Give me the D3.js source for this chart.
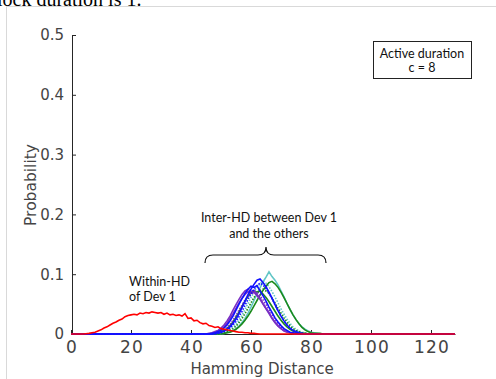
<!DOCTYPE html>
<html>
<head>
<meta charset="utf-8">
<script src="https://cdn.jsdelivr.net/npm/d3@7"></script>
<style>
  body { margin: 0; background: #fff; }
  svg { display: block; }
</style>
</head>
<body>
<svg id="chart" width="496" height="379"></svg>
<script>
// axis ticks
const xTicks = [0, 20, 40, 60, 80, 100, 120];
const yTicks = [0, 0.1, 0.2, 0.3, 0.4, 0.5];
const hdMax = 128;

// within-HD of Dev 1 (red), values from HD = 0
const withinStart = 0;
const withinValues = [0, 0, 0, 0, 0, 0.0005, 0.001, 0.002, 0.003, 0.005,
  0.007, 0.010, 0.012, 0.015, 0.018, 0.020, 0.023, 0.025, 0.029, 0.031,
  0.032, 0.033, 0.032, 0.035, 0.034, 0.036, 0.035, 0.037, 0.036, 0.035,
  0.036, 0.033, 0.035, 0.032, 0.033, 0.031, 0.032, 0.030, 0.034, 0.026,
  0.027, 0.022, 0.023, 0.019, 0.017, 0.018, 0.014, 0.013, 0.011, 0.012,
  0.009, 0.008, 0.007, 0.006, 0.005, 0.004, 0.003, 0.003, 0.002, 0.002,
  0.001, 0.001, 0.0005, 0];

// inter-HD between Dev 1 and the others
const interNames = ["cyanA", "cyanB", "greenA", "greenB", "greenC", "purpleA", "purpleB", "purpleC", "blueA", "blueB", "blueC"];
const interColors = ["#62c6c6", "#62c6c6", "#1b8a1b", "#1b8a1b", "#1b8a1b", "#7a2fc4", "#7a2fc4", "#7a2fc4", "#1010ff", "#1010ff", "#1010ff"];
const interDotted = [false, true, false, false, true, false, false, true, false, true, false];
const interStarts = [51, 50, 51, 48, 50, 46, 47, 48, 47, 49, 48];
const interValues = [
  [0.001, 0.002, 0.004, 0.006, 0.009, 0.013, 0.019, 0.026, 0.035, 0.045, 0.056, 0.067, 0.077, 0.087, 0.095, 0.104, 0.096, 0.090, 0.082, 0.072, 0.062, 0.051, 0.041, 0.032, 0.024, 0.017, 0.012, 0.008, 0.005, 0.003, 0.002, 0.001],
  [0.001, 0.002, 0.004, 0.007, 0.011, 0.016, 0.023, 0.031, 0.041, 0.051, 0.061, 0.070, 0.078, 0.084, 0.088, 0.085, 0.079, 0.071, 0.062, 0.052, 0.042, 0.033, 0.025, 0.018, 0.012, 0.008, 0.005, 0.003, 0.002, 0.001],
  [0.001, 0.002, 0.003, 0.005, 0.008, 0.012, 0.017, 0.023, 0.030, 0.038, 0.047, 0.056, 0.065, 0.073, 0.080, 0.086, 0.088, 0.084, 0.078, 0.070, 0.061, 0.051, 0.041, 0.032, 0.024, 0.017, 0.011, 0.007, 0.004, 0.002, 0.001, 0.001, 0.001],
  [0.001, 0.002, 0.004, 0.006, 0.009, 0.014, 0.020, 0.028, 0.037, 0.046, 0.055, 0.063, 0.069, 0.072, 0.070, 0.072, 0.067, 0.061, 0.054, 0.046, 0.038, 0.030, 0.023, 0.017, 0.012, 0.008, 0.005, 0.003, 0.002, 0.001, 0.001],
  [0.001, 0.002, 0.004, 0.006, 0.009, 0.013, 0.019, 0.026, 0.034, 0.043, 0.052, 0.061, 0.068, 0.073, 0.075, 0.072, 0.068, 0.060, 0.052, 0.043, 0.035, 0.027, 0.020, 0.014, 0.009, 0.006, 0.004, 0.002, 0.001],
  [0.001, 0.002, 0.004, 0.006, 0.010, 0.015, 0.022, 0.030, 0.040, 0.049, 0.058, 0.066, 0.072, 0.075, 0.071, 0.073, 0.066, 0.060, 0.051, 0.043, 0.036, 0.027, 0.020, 0.014, 0.009, 0.006, 0.004, 0.002, 0.001],
  [0.001, 0.003, 0.005, 0.008, 0.012, 0.018, 0.026, 0.034, 0.043, 0.052, 0.060, 0.066, 0.071, 0.068, 0.070, 0.064, 0.058, 0.050, 0.042, 0.034, 0.026, 0.019, 0.013, 0.009, 0.005, 0.003, 0.002, 0.001],
  [0.001, 0.002, 0.004, 0.007, 0.011, 0.016, 0.023, 0.031, 0.040, 0.048, 0.057, 0.063, 0.069, 0.067, 0.070, 0.064, 0.057, 0.049, 0.041, 0.033, 0.025, 0.018, 0.012, 0.008, 0.005, 0.003, 0.001],
  [0.001, 0.002, 0.004, 0.006, 0.010, 0.015, 0.022, 0.030, 0.040, 0.050, 0.059, 0.068, 0.075, 0.080, 0.078, 0.081, 0.072, 0.064, 0.055, 0.045, 0.036, 0.027, 0.020, 0.014, 0.009, 0.006, 0.003, 0.002, 0.001],
  [0.001, 0.002, 0.004, 0.006, 0.010, 0.015, 0.021, 0.029, 0.038, 0.048, 0.058, 0.067, 0.075, 0.081, 0.085, 0.082, 0.076, 0.068, 0.059, 0.049, 0.039, 0.030, 0.022, 0.015, 0.010, 0.006, 0.004, 0.002, 0.001],
  [0.001, 0.002, 0.003, 0.005, 0.008, 0.012, 0.018, 0.025, 0.034, 0.044, 0.055, 0.066, 0.075, 0.083, 0.090, 0.092, 0.086, 0.079, 0.070, 0.060, 0.049, 0.039, 0.030, 0.022, 0.015, 0.010, 0.006, 0.004, 0.002, 0.001]
];

const svg = d3.select('#chart');

// page frame from the surrounding document
svg.append('line').attr('x1', 6.5).attr('x2', 6.5).attr('y1', 6.5).attr('y2', 379)
  .attr('stroke', '#d9d9d9');
svg.append('line').attr('x1', 6.5).attr('x2', 496).attr('y1', 6.5).attr('y2', 6.5)
  .attr('stroke', '#d9d9d9');
svg.append('text').attr('x', -3).attr('y', 6)
  .attr('font-family', 'Liberation Serif').attr('font-size', 20).attr('fill', '#000')
  .text('lock duration is 1.');

//scales//
const x = d3.scaleLinear().domain([0, hdMax]).range([71, 455]);
const y = d3.scaleLinear().domain([0, 0.5]).range([334, 35]);

// pad a histogram with zeros over the full HD range
const toPoints = (start, vals) => d3.range(0, hdMax + 1).map(hd => {
  const i = hd - start;
  return { hd: hd, p: (i >= 0 && i < vals.length) ? vals[i] : 0 };
});

const line = d3.line().x(d => x(d.hd)).y(d => y(d.p));

//axes//
const xAxis = d3.axisBottom(x).tickValues(xTicks).tickSizeInner(-4).tickSizeOuter(0).tickPadding(7);
const yAxis = d3.axisLeft(y).tickValues(yTicks).tickSizeInner(-4).tickSizeOuter(0).tickPadding(8)
  .tickFormat(d => d === 0 ? '0' : d3.format('.1f')(d));

const gx = svg.append('g').attr('transform', 'translate(0,334)').call(xAxis);
const gy = svg.append('g').attr('transform', 'translate(72,0)').call(yAxis);
[gx, gy].forEach(g => {
  g.selectAll('path, line').attr('stroke', '#262626');
  g.selectAll('text').attr('font-family', 'DejaVu Sans').attr('font-size', 15).attr('fill', '#444');
});
gx.selectAll('text').attr('font-size', 17).attr('letter-spacing', 1.2).attr('dx', 0.6);

//lines//
const curves = svg.append('g');
interValues.forEach((vals, k) => {
  curves.append('path')
    .attr('class', interNames[k])
    .attr('d', line(toPoints(interStarts[k], vals)))
    .attr('fill', 'none')
    .attr('stroke', interColors[k])
    .attr('stroke-width', 1.6)
    .attr('stroke-dasharray', interDotted[k] ? '1.5,1.5' : null);
});
curves.append('path')
  .attr('d', line(toPoints(withinStart, withinValues)))
  .attr('fill', 'none')
  .attr('stroke', '#ff0000')
  .attr('stroke-width', 1.6);

//axis titles//
svg.append('text').attr('x', 262).attr('y', 374).attr('text-anchor', 'middle')
  .attr('font-family', 'DejaVu Sans').attr('font-size', 15).attr('fill', '#444')
  .text('Hamming Distance');
svg.append('text').attr('transform', 'translate(36,185) rotate(-90)').attr('text-anchor', 'middle')
  .attr('font-family', 'DejaVu Sans').attr('font-size', 15.5).attr('fill', '#444')
  .text('Probability');

//annotations//
const note = (tx, ty, str, anchor) => svg.append('text').attr('x', tx).attr('y', ty)
  .attr('text-anchor', anchor).attr('font-family', 'Lato').attr('font-size', 12.5).attr('fill', '#111')
  .text(str);

svg.append('rect').attr('x', 373.5).attr('y', 41.5).attr('width', 98).attr('height', 37)
  .attr('fill', '#fff').attr('stroke', '#222');
note(422, 58, 'Active duration', 'middle');
note(422, 72, 'c = 8', 'middle');

note(129, 286, 'Within-HD', 'start');
note(129, 301, 'of Dev 1', 'start');

note(269, 222, 'Inter-HD between Dev 1', 'middle');
note(269, 238, 'and the others', 'middle');

svg.append('path')
  .attr('d', 'M205,263 Q205,255 213,255 L258,255 Q266,255 266,247 Q266,255 274,255 L318,255 Q326,255 326,263')
  .attr('fill', 'none').attr('stroke', '#111').attr('stroke-width', 1.2);
</script>
</body>
</html>
